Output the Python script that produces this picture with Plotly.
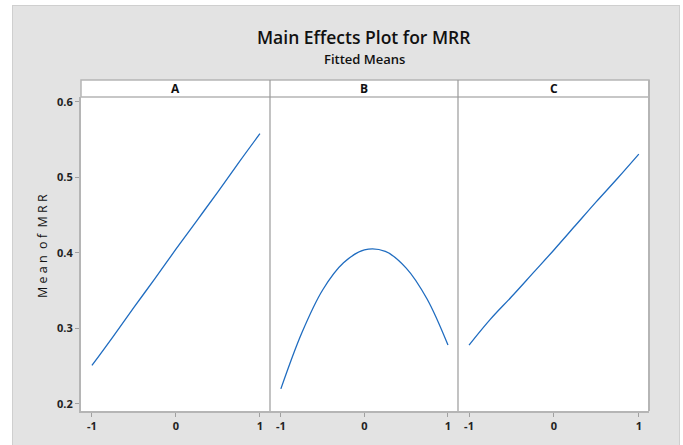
import plotly.graph_objects as go

factors = ["A", "B", "C"]
levels = [-1, -0.75, -0.5, -0.25, 0, 0.25, 0.5, 0.75, 1]
mean_A = [0.251, 0.289, 0.328, 0.366, 0.405, 0.443, 0.481, 0.520, 0.558]
mean_B = [0.220, 0.294, 0.351, 0.387, 0.404, 0.402, 0.380, 0.339, 0.278]
mean_C = [0.278, 0.312, 0.342, 0.373, 0.404, 0.436, 0.468, 0.499, 0.531]
x_ticks = [-1, 0, 1]
x_tick_labels = ["-1", "0", "1"]
y_ticks = [0.2, 0.3, 0.4, 0.5, 0.6]
y_tick_labels = ["0.2", "0.3", "0.4", "0.5", "0.6"]

W, H = 683, 445
L, R, T, B = 81, 34, 80, 34
pw, ph = W - L - R, H - T - B

def px_x(p):
    return (p - L) / pw

def px_y(p):
    return (H - B - p) / ph

line_color = "#1f6cc0"
gray_bg = "#e3e3e3"
frame = "#b5b5b5"
divider = "#9a9a9a"
font_fam = "Open Sans, Noto Sans, sans-serif"

d1 = 189 / pw
d2 = 377 / pw
strip_bottom = px_y(97)
domains = [[0, d1], [d1, d2], [d2, 1]]

fig = go.Figure()
series = [mean_A, mean_B, mean_C]
for i, (f, vals) in enumerate(zip(factors, series)):
    ax = "x" if i == 0 else f"x{i+1}"
    fig.add_trace(go.Scatter(x=levels, y=vals, mode="lines", xaxis=ax, yaxis="y",
                             line=dict(color=line_color, width=1.3, shape="spline"),
                             showlegend=False, hoverinfo="skip"))

xa_common = dict(range=[-1.13, 1.12], tickvals=x_ticks, ticktext=x_tick_labels,
                 ticks="outside", ticklen=4, tickcolor="#a0a0a0", showgrid=False,
                 zeroline=False, showline=True, linecolor=frame, linewidth=2,
                 anchor="y", fixedrange=True,
                 tickfont=dict(family=font_fam, size=11, color="#222", weight=700))
layout = dict(
    width=W, height=H,
    margin=dict(l=L, r=R, t=T, b=B),
    paper_bgcolor=gray_bg, plot_bgcolor="white",
    yaxis=dict(range=[0.1907, 0.6066], domain=[0, strip_bottom], tickvals=y_ticks,
               ticktext=y_tick_labels, ticks="outside", ticklen=4, tickcolor="#a0a0a0",
               showgrid=False, zeroline=False, showline=True, linecolor=frame, linewidth=2,
               tickfont=dict(family=font_fam, size=11, color="#222", weight=700),
               fixedrange=True),
)
for i in range(3):
    key = "xaxis" if i == 0 else f"xaxis{i+1}"
    layout[key] = dict(xa_common, domain=domains[i])
fig.update_layout(**layout)

shapes = []
# white margins outside the gray panel
shapes.append(dict(type="rect", xref="paper", yref="paper", x0=px_x(0), x1=px_x(12),
                   y0=px_y(H), y1=px_y(0), fillcolor="white", line=dict(width=0)))
shapes.append(dict(type="rect", xref="paper", yref="paper", x0=px_x(0), x1=px_x(W),
                   y0=px_y(5), y1=px_y(0), fillcolor="white", line=dict(width=0)))
shapes.append(dict(type="rect", xref="paper", yref="paper", x0=px_x(680), x1=px_x(W),
                   y0=px_y(H), y1=px_y(0), fillcolor="white", line=dict(width=0)))
# gray panel border
shapes.append(dict(type="line", xref="paper", yref="paper", x0=px_x(12.5), x1=px_x(12.5),
                   y0=px_y(H), y1=px_y(5), line=dict(color="#cfcfcf", width=1)))
shapes.append(dict(type="line", xref="paper", yref="paper", x0=px_x(12), x1=px_x(680),
                   y0=px_y(5.5), y1=px_y(5.5), line=dict(color="#cfcfcf", width=1)))
shapes.append(dict(type="line", xref="paper", yref="paper", x0=px_x(679.5), x1=px_x(679.5),
                   y0=px_y(H), y1=px_y(5), line=dict(color="#cfcfcf", width=1)))
# strip header
shapes.append(dict(type="rect", xref="paper", yref="paper", x0=0, x1=1,
                   y0=strip_bottom, y1=1, fillcolor="white",
                   line=dict(color=frame, width=1.5)))
# right frame
shapes.append(dict(type="line", xref="paper", yref="paper", x0=1, x1=1,
                   y0=0, y1=1, line=dict(color=frame, width=2)))
# dividers
for d in (d1, d2):
    shapes.append(dict(type="line", xref="paper", yref="paper", x0=d, x1=d,
                       y0=0, y1=1, line=dict(color=divider, width=1.2)))

annotations = [
    dict(text="Main Effects Plot for MRR", xref="paper", yref="paper",
         x=px_x(364), y=px_y(37), showarrow=False, xanchor="center", yanchor="middle",
         font=dict(family=font_fam, size=17.5, color="#111", weight=600)),
    dict(text="Fitted Means", xref="paper", yref="paper",
         x=px_x(364), y=px_y(59), showarrow=False, xanchor="center", yanchor="middle",
         font=dict(family=font_fam, size=13, color="#111", weight=600)),
    dict(text="M e a n  o f  M R R", xref="paper", yref="paper",
         x=px_x(42), y=px_y(246), showarrow=False, textangle=-90,
         xanchor="center", yanchor="middle",
         font=dict(family=font_fam, size=12.5, color="#111")),
]
for i, f in enumerate(factors):
    annotations.append(dict(text=f, xref="paper", yref="paper",
                            x=(domains[i][0] + domains[i][1]) / 2,
                            y=(strip_bottom + 1) / 2, showarrow=False,
                            xanchor="center", yanchor="middle",
                            font=dict(family=font_fam, size=12, color="#111", weight=700)))

fig.update_layout(shapes=shapes, annotations=annotations)
fig.write_html("out.html")
